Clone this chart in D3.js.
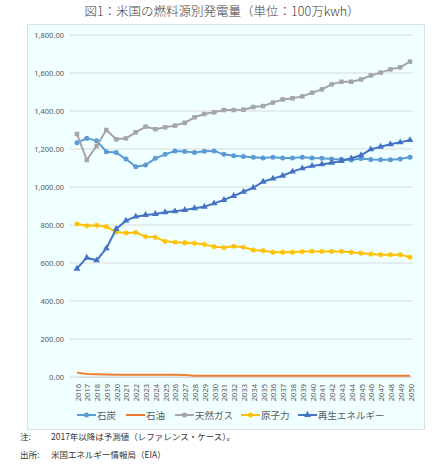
<!DOCTYPE html>
<html><head><meta charset="utf-8">
<script src="https://cdn.jsdelivr.net/npm/d3@7"></script>
<style>
body{margin:0;background:#fff;}
svg{display:block;font-family:"Noto Sans CJK JP","Noto Sans",sans-serif;}
</style></head>
<body>
<svg id="c" width="442" height="471"></svg>
<script>
const years = d3.range(2016, 2051).map(String);
const coal = [1233,1256,1244,1186,1181,1147,1107,1116,1151,1172,1189,1187,1182,1188,1190,1172,1165,1160,1156,1153,1156,1153,1153,1156,1152,1151,1147,1146,1142,1150,1145,1143,1143,1148,1156];
const oil = [23,16,15,13,12,12,12,12,12,12,12,11,6,6,6,6,6,6,6,6,6,6,6,6,6,6,6,6,6,6,6,6,6,6,6];
const gas = [1279,1142,1216,1300,1251,1256,1288,1318,1304,1314,1323,1338,1367,1384,1393,1405,1405,1407,1421,1426,1444,1461,1467,1477,1496,1514,1540,1554,1554,1566,1587,1602,1619,1630,1660];
const nuclear = [805,796,798,791,763,758,761,739,735,714,709,706,704,698,686,681,688,683,668,665,656,656,656,660,661,661,661,661,656,651,647,644,644,644,630];
const renew = [570,628,614,677,779,823,844,853,858,867,872,879,888,896,914,932,953,975,996,1028,1044,1059,1081,1098,1111,1119,1128,1137,1151,1167,1198,1212,1225,1235,1247];
const yTicks = [0,200,400,600,800,1000,1200,1400,1600,1800];
const seriesNames = ["石炭","石油","天然ガス","原子力","再生エネルギー"];

const series = [
  {name: seriesNames[0], values: coal, color: "#5B9BD5", marker: "circle"},
  {name: seriesNames[1], values: oil, color: "#ED7D31", marker: "none"},
  {name: seriesNames[2], values: gas, color: "#A5A5A5", marker: "square"},
  {name: seriesNames[3], values: nuclear, color: "#FFC000", marker: "star"},
  {name: seriesNames[4], values: renew, color: "#4472C4", marker: "triangle"}
];

const svg = d3.select("#c");
svg.append("rect").attr("x", 27.5).attr("y", 24.5).attr("width", 397).attr("height", 405)
  .attr("fill", "#F0FFFF").attr("stroke", "#D9E1E1");

svg.append("text").attr("x", 222).attr("y", 16).attr("text-anchor", "middle")
  .attr("font-size", 12.5).attr("font-weight", 300).attr("fill", "#404040").text("図1：米国の燃料源別発電量（単位：100万kwh）");

const x = d3.scalePoint().domain(years).range([77, 410]);
const y = d3.scaleLinear().domain([0, 1800]).range([377, 35]);

svg.append("g").selectAll("line").data(yTicks).join("line")
  .attr("x1", 70).attr("x2", 413).attr("y1", d => y(d)).attr("y2", d => y(d))
  .attr("stroke", "#D9D9D9").attr("stroke-width", 1);

const yAxis = svg.append("g").attr("transform", "translate(70,0)")
  .call(d3.axisLeft(y).tickValues(yTicks).tickSize(0).tickPadding(6).tickFormat(d3.format(",.2f")));
yAxis.select(".domain").remove();
yAxis.selectAll("text").attr("font-size", 7.5).attr("fill", "#595959").attr("font-family", "'Noto Sans','DejaVu Sans',sans-serif");

const xAxis = svg.append("g").attr("transform", "translate(0,377)")
  .call(d3.axisBottom(x).tickSize(0).tickPadding(0));
xAxis.select(".domain").attr("stroke", "#D9D9D9");
xAxis.selectAll("text").attr("font-size", 7.5).attr("fill", "#595959")
  .attr("font-family", "'Noto Sans','DejaVu Sans',sans-serif")
  .attr("text-anchor", "end").attr("dy", null)
  .attr("transform", "translate(3,7) rotate(-90)");

const line = d3.line().x((d, i) => x(years[i])).y(d => y(d));

function drawMarker(g, type, color, cx, cy, s) {
  if (type === "circle") {
    g.append("circle").attr("cx", cx).attr("cy", cy).attr("r", s * 0.5).attr("fill", color);
  } else if (type === "square") {
    g.append("rect").attr("x", cx - s * 0.45).attr("y", cy - s * 0.45).attr("width", s * 0.9).attr("height", s * 0.9).attr("fill", color);
  } else if (type === "triangle") {
    g.append("path").attr("d", d3.symbol(d3.symbolTriangle, s * s * 0.8)()).attr("transform", `translate(${cx},${cy})`).attr("fill", color);
  } else if (type === "star") {
    const r = s * 0.55;
    g.append("path").attr("d", `M${cx - r},${cy}L${cx + r},${cy}M${cx},${cy - r}L${cx},${cy + r}M${cx - r * 0.7},${cy - r * 0.7}L${cx + r * 0.7},${cy + r * 0.7}M${cx - r * 0.7},${cy + r * 0.7}L${cx + r * 0.7},${cy - r * 0.7}`)
      .attr("stroke", color).attr("stroke-width", 1.1);
  }
}

series.forEach(s => {
  const g = svg.append("g");
  g.append("path").datum(s.values).attr("d", line).attr("fill", "none")
    .attr("stroke", s.color).attr("stroke-width", 2).attr("stroke-linejoin", "round");
  if (s.marker !== "none") {
    s.values.forEach((v, i) => drawMarker(g, s.marker, s.color, x(years[i]), y(v), 5));
  }
});

const legendX = [77, 126, 175, 241, 298];
const ly = 415;
series.forEach((s, i) => {
  const g = svg.append("g");
  const lx = legendX[i];
  g.append("line").attr("x1", lx).attr("x2", lx + 19).attr("y1", ly).attr("y2", ly)
    .attr("stroke", s.color).attr("stroke-width", 2);
  if (s.marker !== "none") drawMarker(g, s.marker, s.color, lx + 9.5, ly, 5);
  g.append("text").attr("x", lx + 20).attr("y", ly + 3.5).attr("font-size", 9.5).attr("fill", "#595959").text(s.name);
});

const notes = svg.append("g").attr("font-size", 8.5).attr("fill", "#333");
notes.append("text").attr("x", 20).attr("y", 440).text("注:");
notes.append("text").attr("x", 51).attr("y", 440).text("2017年以降は予測値（レファレンス・ケース）。");
notes.append("text").attr("x", 20).attr("y", 458).text("出所:");
notes.append("text").attr("x", 51).attr("y", 458).text("米国エネルギー情報局（EIA）");
</script>
</body></html>
